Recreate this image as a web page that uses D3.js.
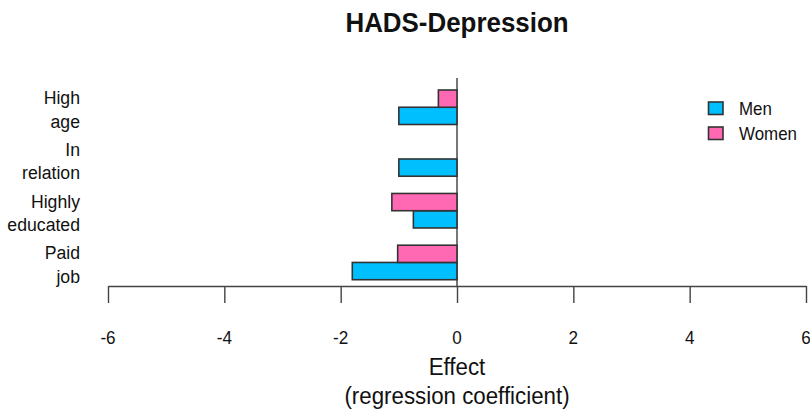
<!DOCTYPE html>
<html>
<head>
<meta charset="utf-8">
<script src="https://cdn.jsdelivr.net/npm/d3@7"></script>
<style>
  html, body { margin: 0; padding: 0; background: #fff; }
  svg { display: block; font-family: "Liberation Sans", Arial, sans-serif; }
</style>
</head>
<body>
<svg id="chart" width="810" height="413"></svg>
<script>
// Regression coefficients for HADS-Depression, by predictor and sex
const categories = ["Paid job", "Highly educated", "In relation", "High age"];
const labelLines = [["Paid", "job"], ["Highly", "educated"], ["In", "relation"], ["High", "age"]];
const menValues = [-1.80, -0.75, -1.00, -1.00];
const womenValues = [-1.02, -1.12, null, -0.32];
const seriesNames = ["Men", "Women"];
const seriesColors = ["#00BFFF", "#FF69B4"];
const xTicks = [-6, -4, -2, 0, 2, 4, 6];

const svg = d3.select("#chart");

const x = d3.scaleLinear().domain([-6, 6]).range([108, 806]);
// bar slots: each group = one gap + Men bar + Women bar
const y = d3.scaleLinear().domain([1, 12]).range([279.7, 90]);

// text drawn slightly condensed and tall
function txt(g, px, py, s, opts) {
  const t = g.append("text")
    .attr("transform", `translate(${px},${py}) scale(${opts.sx},1)`)
    .attr("text-anchor", opts.anchor || "middle")
    .attr("font-size", opts.size)
    .attr("fill", opts.fill || "#111")
    .text(s);
  if (opts.weight) t.attr("font-weight", opts.weight);
  return t;
}

// Title
txt(svg, 457, 31.5, "HADS-Depression", { size: 27, weight: "bold", sx: 0.96 });

// Zero reference line
svg.append("line")
  .attr("x1", x(0)).attr("x2", x(0))
  .attr("y1", 78).attr("y2", 286)
  .attr("stroke", "#555").attr("stroke-width", 1.6);

// Bars
const bars = [];
categories.forEach((c, i) => {
  [menValues[i], womenValues[i]].forEach((v, s) => {
    if (v === null) return;
    bars.push({ v, s, lo: 1 + 3 * i + s });
  });
});
svg.append("g").selectAll("rect").data(bars).join("rect")
  .attr("x", d => x(Math.min(0, d.v)))
  .attr("width", d => Math.abs(x(d.v) - x(0)))
  .attr("y", d => y(d.lo + 1))
  .attr("height", d => y(d.lo) - y(d.lo + 1))
  .attr("fill", d => seriesColors[d.s])
  .attr("stroke", "#333").attr("stroke-width", 1.6);

// Category labels (two lines each)
const lab = svg.append("g");
labelLines.forEach((lines, i) => {
  const cy = y(2 + 3 * i);
  txt(lab, 80, cy - 3, lines[0], { size: 19, anchor: "end", sx: 0.93 });
  txt(lab, 80, cy + 20.5, lines[1], { size: 19, anchor: "end", sx: 0.93 });
});

// X axis
const axis = d3.axisBottom(x).tickValues(xTicks).tickSize(17).tickSizeOuter(0)
  .tickFormat(d3.format("d"));
const ax = svg.append("g").attr("transform", "translate(0,286)").call(axis);
ax.select(".domain").attr("stroke", "#444").attr("stroke-width", 1.4);
ax.selectAll(".tick line").attr("stroke", "#444").attr("stroke-width", 1.4);
ax.selectAll(".tick text").remove();
xTicks.forEach(t => txt(svg, x(t), 344, String(t), { size: 19, sx: 0.9 }));

// Axis title
txt(svg, 457, 375, "Effect", { size: 24, sx: 0.93 });
txt(svg, 457, 404, "(regression coefficient)", { size: 24, sx: 0.93 });

// Legend
const leg = svg.append("g");
seriesNames.forEach((n, i) => {
  leg.append("rect")
    .attr("x", 708.5).attr("y", 102 + i * 25)
    .attr("width", 14.5).attr("height", 12.5)
    .attr("fill", seriesColors[i]).attr("stroke", "#333").attr("stroke-width", 1.6);
  txt(leg, 739, 114.5 + i * 25, n, { size: 18, anchor: "start", sx: 0.94 });
});
</script>
</body>
</html>
